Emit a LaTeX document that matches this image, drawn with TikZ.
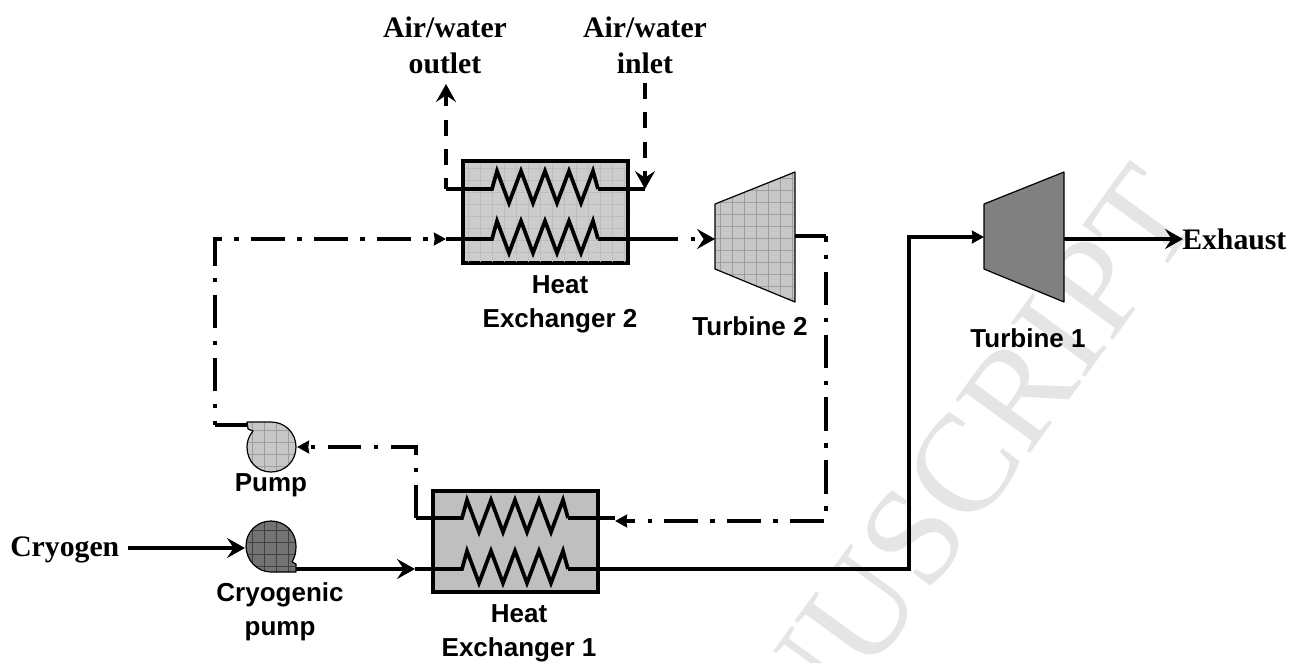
\documentclass[tikz,border=0pt]{standalone}
\usepackage{fontspec}
\setmainfont{Liberation Serif}
\setsansfont{Liberation Sans}
\usetikzlibrary{arrows.meta,calc}
\definecolor{wm}{gray}{0.90}
\definecolor{hxlight}{gray}{0.80}
\definecolor{hxmid}{gray}{0.75}
\definecolor{pumplight}{gray}{0.78}
\definecolor{pumpdark}{gray}{0.45}
\definecolor{turblight}{gray}{0.78}
\definecolor{turbdark}{gray}{0.50}
\definecolor{texsoft}{gray}{0.74}
\definecolor{texmid}{gray}{0.62}
\tikzset{
  x=0.75pt,y=-0.75pt,
  flow/.style={line width=2.9pt,draw=black,line join=miter},
  tip/.style={-{Stealth[length=13.5pt,width=15pt,inset=5pt]}},
  tipsmall/.style={-{Stealth[length=9pt,width=9.5pt,inset=0.5pt]}},
  dashline/.style={flow,dash pattern=on 12pt off 10pt},
  dashdot/.style={flow,dash pattern=on 25pt off 9.5pt on 3.2pt off 9.5pt},
  hxbox/.style={draw=black,line width=2.6pt,inner sep=0pt},
  shell/.style={draw=black,line width=0.9pt,line join=round},
  sanslabel/.style={font=\sffamily\bfseries\fontsize{19.5}{25.3}\selectfont,align=center,inner sep=0pt},
  seriflabel/.style={font=\rmfamily\bfseries\fontsize{22.3}{27}\selectfont,align=center,inner sep=0pt},
}
\newcommand{\zigcoil}[3]{% name prefix, x start, y
  \draw[flow,line width=2.8pt] (#1left) -- (#2,#3)
    -- ++(5,-18) -- ++(12,32) -- ++(12,-32) -- ++(12,32) -- ++(12,-32) -- ++(12,32) -- ++(12,-32) -- ++(12,32) -- ++(12,-32) -- ++(5,18) -- (#1right);
}
\begin{document}
\begin{tikzpicture}
\useasboundingbox (0,0) rectangle (1291,662);
% watermark
\begin{scope}
\clip (0,0) rectangle (1291,662);
\node[text=wm,rotate=54,inner sep=0pt,font=\rmfamily\fontsize{105}{105}\selectfont] (mark) at (904,550) {MANUSCRIPT};
\end{scope}

% heat exchangers
\node[hxbox,fill=hxlight,minimum width=165pt*0.75,minimum height=102pt*0.75] (hxtwo) at (545.5,212) {};
\node[hxbox,fill=hxmid,minimum width=165pt*0.75,minimum height=101pt*0.75] (hxone) at (515.5,541.5) {};
\begin{scope}
\clip (465,163) rectangle (626,261);
\foreach \gx in {468,480,...,624} {\draw[texsoft,line width=.5pt] (\gx,161) -- (\gx,263);}
\foreach \gy in {168,180,...,260} {\draw[texsoft,line width=.5pt] (463,\gy) -- (628,\gy);}
\end{scope}

% turbines
\coordinate (ttwoa) at (715,204); \coordinate (ttwob) at (795,172); \coordinate (ttwoc) at (795,302); \coordinate (ttwod) at (715,269);
\coordinate (tonea) at (984,204); \coordinate (toneb) at (1064,172); \coordinate (tonec) at (1064,302); \coordinate (toned) at (984,269);
\fill[turblight] (ttwoa) -- (ttwob) -- (ttwoc) -- (ttwod) -- cycle;
\begin{scope}
\clip (ttwoa) -- (ttwob) -- (ttwoc) -- (ttwod) -- cycle;
\foreach \gx in {720,732,...,792} {\draw[texmid,line width=.5pt] (\gx,170) -- (\gx,305);}
\foreach \gy in {178,190,...,298} {\draw[texmid,line width=.5pt] (712,\gy) -- (798,\gy);}
\end{scope}
\draw[shell] (ttwoa) -- (ttwob) -- (ttwoc) -- (ttwod) -- cycle;
\draw[shell,fill=turbdark] (tonea) -- (toneb) -- (tonec) -- (toned) -- cycle;

% pumps
\newcommand{\pumppath}{(247,422) -- (271,422) .. controls (285,422) and (296,433) .. (296,447) .. controls (296,461) and (285,472) .. (271,472) .. controls (257,472) and (247,461) .. (247,447) .. controls (247,441) and (249,436) .. (253,431) -- (248,429) -- cycle}
\newcommand{\cryopath}{(296,572) -- (271,572) .. controls (257,572) and (246,560) .. (246,546) .. controls (246,532) and (257,521) .. (271,521) .. controls (285,521) and (296,532) .. (296,546) .. controls (296,552) and (295,557) .. (292,562) -- (296,564) -- cycle}
\fill[pumplight] \pumppath;
\begin{scope}
\clip \pumppath;
\foreach \gx in {252,264,...,292} {\draw[texmid,line width=.4pt] (\gx,420) -- (\gx,475);}
\foreach \gy in {430,442,...,470} {\draw[texmid,line width=.4pt] (245,\gy) -- (298,\gy);}
\end{scope}
\draw[shell] \pumppath;
\fill[pumpdark] \cryopath;
\begin{scope}
\clip \cryopath;
\foreach \gx in {252,264,...,292} {\draw[black!75,line width=.5pt] (\gx,518) -- (\gx,575);}
\foreach \gy in {530,542,...,570} {\draw[black!75,line width=.5pt] (243,\gy) -- (298,\gy);}
\end{scope}
\draw[shell] \cryopath;

% routing coordinates
\coordinate (twoupright) at (598,189); \coordinate (twoupleft) at (446,189);
\coordinate (twolowleft) at (446,239); \coordinate (twolowright) at (598,239);
\coordinate (oneupright) at (568,518); \coordinate (oneupleft) at (416,518);
\coordinate (onelowleft) at (415,569); \coordinate (onelowright) at (568,569);
\coordinate (airout) at (446,84); \coordinate (airin) at (645,83); \coordinate (airjoin) at (645,189);
\coordinate (pumpin) at (297,447); \coordinate (pumptail) at (247,425);
\coordinate (cryoout) at (296,569); \coordinate (cryoin) at (245,548);
\coordinate (leftbot) at (215,425); \coordinate (lefttop) at (215,239);
\coordinate (rightend) at (826,236); \coordinate (rightbot) at (826,521); \coordinate (oneinlet) at (615,521);
\coordinate (onecorner) at (416,447);
\coordinate (twoout) at (645,239); \coordinate (ttwoin) at (715,239);
\coordinate (ttwoout) at (795,236);
\coordinate (oneout) at (615,569); \coordinate (vbot) at (909,569); \coordinate (vtop) at (909,237); \coordinate (tonein) at (984,237);
\coordinate (toneout) at (1064,239); \coordinate (exhaust) at (1183,239);
\coordinate (cryostart) at (128,548); \coordinate (oneupstub) at (615,518);

% coils
\zigcoil{twoup}{492}{189}
\zigcoil{twolow}{492}{239}
\zigcoil{oneup}{462}{518}
\zigcoil{onelow}{462}{569}

% connectors
\draw[flow] (twoupright) -- (airjoin);
\draw[dashline,dash phase=0pt,tip] (airin) -- (airjoin);
\draw[dashline,dash phase=4pt,tip] (twoupleft) -- (airout);
\draw[flow] (twolowright) -- (twoout);
\draw[dashdot,tip] (twoout) -- (ttwoin);
\draw[dashdot,dash phase=22pt,tipsmall] (leftbot) -- (lefttop) -- (twolowleft);
\draw[flow] (pumptail) -- (leftbot);
\draw[dashdot,tipsmall] (oneupleft) -- (onecorner) -- (pumpin);
\draw[flow] (oneupright) -- (oneupstub);
\draw[flow] (ttwoout) -- (rightend);
\draw[dashdot,dash phase=20.5pt,tipsmall] (rightend) -- (rightbot) -- (oneinlet);
\draw[flow,tip] (cryostart) -- (cryoin);
\draw[flow,tip] (cryoout) -- (onelowleft);
\draw[flow] (onelowright) -- (oneout);
\draw[flow,tipsmall] (oneout) -- (vbot) -- (vtop) -- (tonein);
\draw[flow,tip] (toneout) -- (exhaust);

% labels
\node[seriflabel] (lblout) at (445,45) {Air/water\\outlet};
\node[seriflabel] (lblin) at (645,45) {Air/water\\inlet};
\node[seriflabel,anchor=base west] (lblex) at (1182,249) {Exhaust};
\node[seriflabel,anchor=base west] (lblcry) at (10,556) {Cryogen};
\node[sanslabel] (lblhxtwo) at (560,304) {Heat\\Exchanger 2};
\node[sanslabel] (lblhxone) at (519,633) {Heat\\Exchanger 1};
\node[sanslabel] (lbltt) at (750,326) {Turbine 2};
\node[sanslabel] (lblto) at (1028,338) {Turbine 1};
\node[sanslabel] (lblpump) at (271,485) {Pump};
\node[sanslabel] (lblcp) at (280,612) {Cryogenic\\pump};
\end{tikzpicture}
\end{document}
